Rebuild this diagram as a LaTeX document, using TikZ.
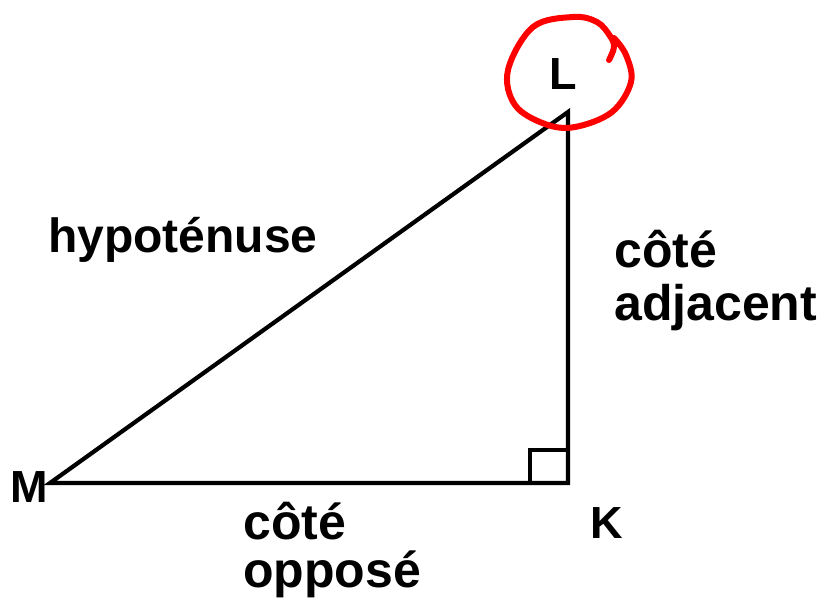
\documentclass[tikz,border=0pt]{standalone}
\usepackage{fontspec}
\setmainfont{Liberation Sans}
\begin{document}
\begin{tikzpicture}[x=1pt,y=-1pt,
  side/.style={line width=4.2pt,line join=miter},
  word/.style={anchor=base west,inner sep=0pt,font=\fontsize{50}{55}\selectfont\bfseries},
  vlabel/.style={anchor=base west,inner sep=0pt,font=\fontsize{45}{50}\selectfont\bfseries},
  ring/.style={draw=red,line width=6pt,line cap=round,line join=round}]
\useasboundingbox (0,0) rectangle (818,608);
\coordinate (M) at (50,483);
\coordinate (K) at (568,483);
\coordinate (L) at (568,112);
\coordinate (Q1) at (530,483);
\coordinate (Q2) at (530,450);
\coordinate (Q3) at (568,450);
\draw[side] (M) -- (K) -- (L) -- cycle;
\draw[line width=4.2pt] (Q1) -- (Q2) -- (Q3);
\node[vlabel] (lM) at (10,502) {M};
\node[vlabel] (lK) at (590,538) {K};
\node[vlabel] (lL) at (549,89) {L};
\node[word,font=\fontsize{48}{55}\selectfont\bfseries] (hyp) at (48,252) {hypoténuse};
\node[word] (adj1) at (614,267) {côté};
\node[word] (adj2) at (614,320) {adjacent};
\node[word] (opp1) at (243,539) {côté};
\node[word] (opp2) at (243,587) {opposé};
\draw[ring] plot[smooth,tension=0.6] coordinates {(609,60) (614,47) (610,36) (597,22) (573,17) (533,27) (508,70) (515,105) (545,124) (575,127) (612,112) (631,82) (626,55) (614,38)};
\end{tikzpicture}
\end{document}
